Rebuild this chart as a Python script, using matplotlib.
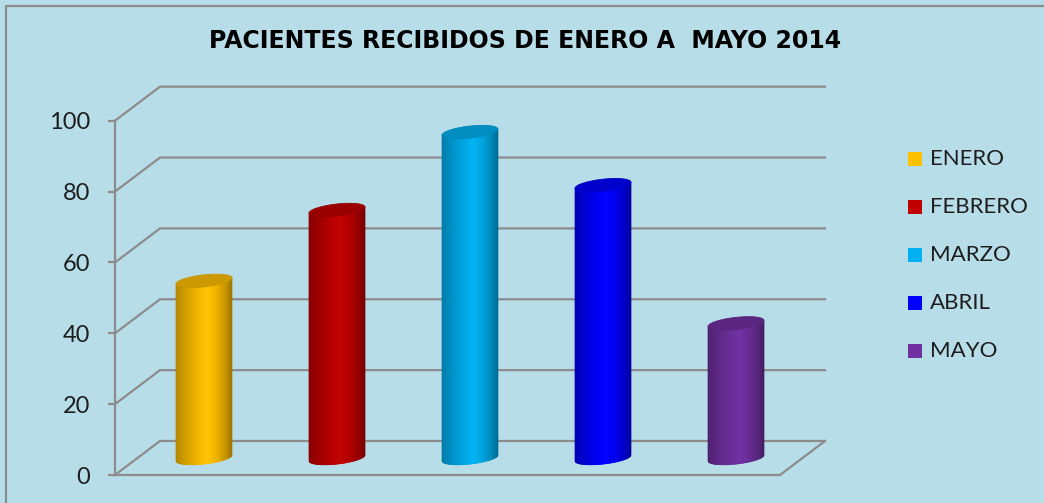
import numpy as np
import matplotlib
matplotlib.use("Agg")
import matplotlib.pyplot as plt
from matplotlib.collections import PolyCollection
from matplotlib.patches import Polygon, Rectangle
from matplotlib.lines import Line2D
import matplotlib.colors as mcolors

# ---- data -------------------------------------------------------------
months = ["ENERO", "FEBRERO", "MARZO", "ABRIL", "MAYO"]
patients = [50, 70, 92, 77, 38]
colors = ["#FFC000", "#C00000", "#00B0F0", "#0000FF", "#7030A0"]
yticks = [0, 20, 40, 60, 80, 100]
title = "PACIENTES RECIBIDOS DE ENERO A  MAYO 2014"

# ---- style ------------------------------------------------------------
W, H, DPI = 1044, 503, 100
BG = "#B7DDE8"
GRID = "#8C8C8C"
TXT = "#1E1E1E"
FONT = ["Lato", "DejaVu Sans"]

plt.rcParams["font.family"] = FONT

fig = plt.figure(figsize=(W / DPI, H / DPI), dpi=DPI, facecolor=BG)


def fx(x):
    return x / W


def fy(y):
    return 1 - y / H


# front plane of the 3-D box, in pixels
x0, x1 = 115, 780
y0, y1 = 475, 120.7
ax = fig.add_axes([fx(x0), fy(y0), (x1 - x0) / W, (y0 - y1) / H])
n = len(months)
ax.set_xlim(-0.5, n - 0.5)
ax.set_ylim(0, 100)
ax.patch.set_visible(False)
for s in ["top", "right", "bottom"]:
    ax.spines[s].set_visible(False)
ax.spines["left"].set_color(GRID)
ax.spines["left"].set_linewidth(1.6)
ax.set_xticks([])
ax.set_yticks(yticks)
ax.tick_params(axis="y", length=5, width=1.6, color=GRID, pad=13,
               labelsize=17, labelcolor=TXT)

# depth of the box (pixels) expressed in data units
px_cat = (x1 - x0) / n
px_val = (y0 - y1) / 100.0
ddx = 45 / px_cat
ddy = 34 / px_val
xl, xr = -0.5, n - 0.5

# back wall gridlines with the receding left-wall segment
for v in yticks:
    ax.add_line(Line2D([xl, xl + ddx, xr + ddx], [v, v + ddy, v + ddy],
                       color=GRID, lw=1.6, clip_on=False, zorder=1))
# floor: front edge and right edge
ax.add_line(Line2D([xl, xr, xr + ddx], [0, 0, ddy],
                   color=GRID, lw=1.6, clip_on=False, zorder=1))

# ---- cylinders --------------------------------------------------------
half_w = 0.21
ell_b = 6.0 / px_val      # ellipse half height
tilt = 3.0 / px_val       # rise of the ellipse toward the right
shade_u = [-1.0, -0.6, -0.1, 0.15, 0.5, 0.85, 1.0]
shade_f = [0.70, 0.84, 0.97, 1.02, 0.92, 0.74, 0.62]


def shade(c, f):
    rgb = np.array(mcolors.to_rgb(c))
    if f <= 1:
        return tuple(rgb * f)
    return tuple(rgb + (1 - rgb) * (f - 1))


us = np.linspace(-1, 1, 81)
for i, (v, c) in enumerate(zip(patients, colors)):
    cx = i + ddx / 2
    cb = ddy / 2
    ct = v + ddy / 2
    xs = cx + half_w * us
    front = -ell_b * np.sqrt(np.clip(1 - us ** 2, 0, 1)) + tilt * us
    yb = cb + front
    yt = ct + front
    polys, fcs = [], []
    for j in range(len(us) - 1):
        polys.append([(xs[j], yb[j]), (xs[j + 1], yb[j + 1]),
                      (xs[j + 1], yt[j + 1]), (xs[j], yt[j])])
        um = 0.5 * (us[j] + us[j + 1])
        fcs.append(shade(c, np.interp(um, shade_u, shade_f)))
    pc = PolyCollection(polys, facecolors=fcs, edgecolors=fcs,
                        linewidths=0.6, zorder=3, clip_on=False)
    ax.add_collection(pc)
    t = np.linspace(0, 2 * np.pi, 120)
    top = np.column_stack([cx + half_w * np.cos(t),
                           ct + ell_b * np.sin(t) + tilt * np.cos(t)])
    ax.add_patch(Polygon(top, closed=True, facecolor=shade(c, 0.80),
                         edgecolor=shade(c, 0.78), lw=0.6, zorder=4,
                         clip_on=False))

# ---- title ------------------------------------------------------------
fig.text(fx(525.5), fy(41), title, ha="center", va="center",
         fontsize=17, fontweight="bold", color="black",
         family=["DejaVu Sans"])

# ---- legend -----------------------------------------------------------
leg_y0, leg_step = 159, 48
for k, (m, c) in enumerate(zip(months, colors)):
    yc = leg_y0 + k * leg_step
    fig.add_artist(Rectangle((fx(908), fy(yc + 7)), 14 / W, 14 / H,
                             transform=fig.transFigure, facecolor=c,
                             edgecolor="none"))
    fig.text(fx(930), fy(yc), m, ha="left", va="center",
             fontsize=16, color=TXT)

# ---- chart border -----------------------------------------------------
fig.add_artist(Line2D([fx(5.5), fx(5.5), fx(W + 5)], [fy(H + 5), fy(5.5), fy(5.5)],
                      transform=fig.transFigure, color=GRID, lw=1.6))

fig.savefig("out.png", dpi=DPI, facecolor=BG)
